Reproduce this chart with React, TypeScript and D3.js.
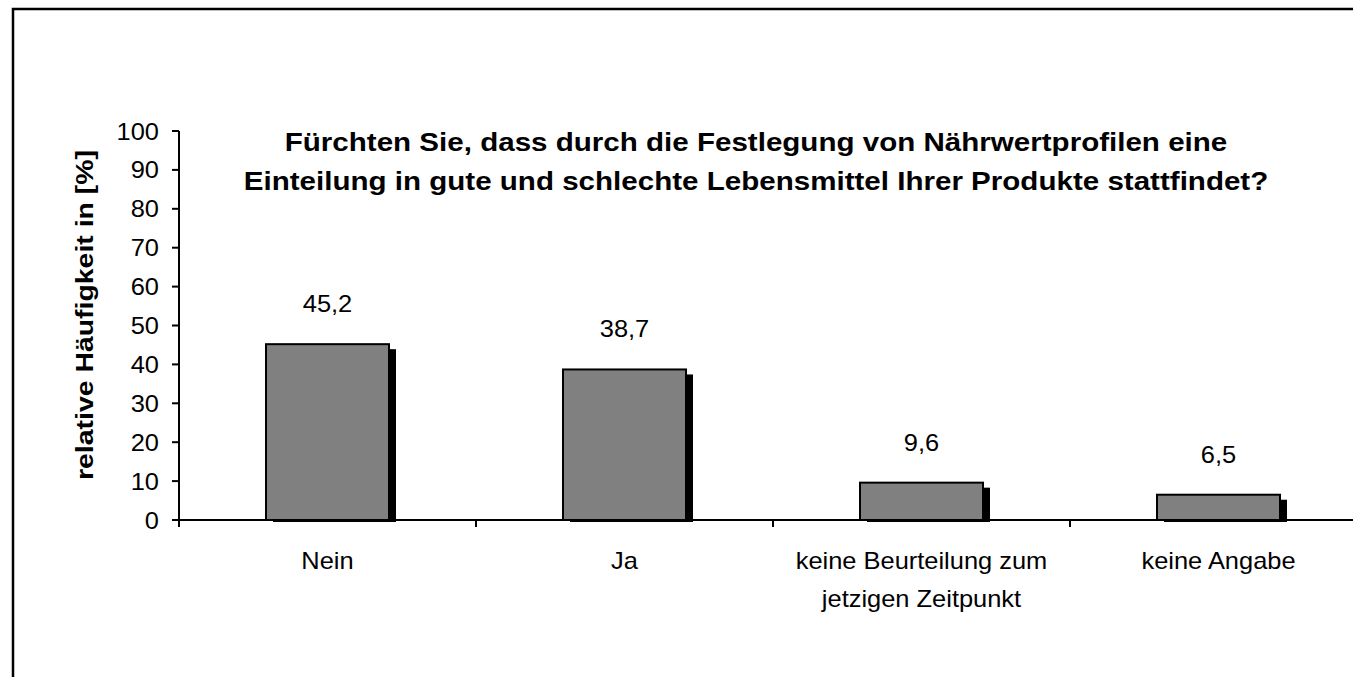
import React from "react";
import * as d3 from "d3";

const categories: string[][] = [
  ["Nein"],
  ["Ja"],
  ["keine Beurteilung zum", "jetzigen Zeitpunkt"],
  ["keine Angabe"],
];
const values: number[] = [45.2, 38.7, 9.6, 6.5];
const yTicks: number[] = [0, 10, 20, 30, 40, 50, 60, 70, 80, 90, 100];
const titleLines: string[] = [
  "Fürchten Sie, dass durch die Festlegung von Nährwertprofilen eine",
  "Einteilung in gute und schlechte Lebensmittel Ihrer Produkte stattfindet?",
];
const yLabel = "relative Häufigkeit in [%]";

const W = 1353;
const H = 677;
const FONT = "'Liberation Sans', Arial, sans-serif";
const FS = 24;
const SX = 1.06;

function T(props: {
  x: number;
  y: number;
  sx?: number;
  anchor?: "start" | "middle" | "end";
  size?: number;
  bold?: boolean;
  children: React.ReactNode;
}) {
  const { x, y, sx = SX, anchor = "middle", size = FS, bold = false, children } = props;
  return (
    <text
      transform={`translate(${x},${y}) scale(${sx},1)`}
      textAnchor={anchor}
      fontSize={size}
      fontWeight={bold ? "bold" : "normal"}
      fill="#000"
    >
      {children}
    </text>
  );
}

export default function App() {
  const x0 = 179;
  const band = 297;
  const x = d3
    .scaleBand<number>()
    .domain(values.map((_, i) => i))
    .range([x0, x0 + band * values.length])
    .paddingInner(0)
    .paddingOuter(0);
  const y = d3.scaleLinear().domain([0, 100]).range([520, 131]);
  const barW = 123;
  const fmt = (v: number) => v.toFixed(1).replace(".", ",");

  return (
    <svg
      width={W}
      height={H}
      style={{ position: "absolute", left: 0, top: 0, background: "#fff" }}
      fontFamily={FONT}
    >
      <rect x={0} y={0} width={W} height={H} fill="#fff" />
      {/* outer border */}
      <rect x={13} y={9} width={W + 20} height={H + 20} fill="none" stroke="#000" strokeWidth={2.5} />

      {/* title */}
      {titleLines.map((t, i) => (
        <T key={i} x={756} y={151 + i * 39} size={26} sx={1.137} bold>
          {t}
        </T>
      ))}

      {/* y label */}
      <text
        transform={`translate(93,315) rotate(-90)`}
        textAnchor="middle"
        fontSize={23}
        fontWeight="bold"
        textLength={330}
        lengthAdjust="spacingAndGlyphs"
      >
        {yLabel}
      </text>

      {/* bars */}
      {values.map((v, i) => {
        const cx = (x(i) as number) + x.bandwidth() / 2;
        const left = cx - barW / 2;
        return (
          <g key={i}>
            <rect x={left + 7} y={y(v) + 5} width={barW} height={y(0) - y(v) - 3} fill="#000" />
            <rect
              x={left}
              y={y(v)}
              width={barW}
              height={y(0) - y(v)}
              fill="#808080"
              stroke="#000"
              strokeWidth={2}
            />
            <T x={cx} y={y(v) - 32}>
              {fmt(v)}
            </T>
          </g>
        );
      })}

      {/* axes */}
      <line x1={x0} x2={x0} y1={y(100)} y2={y(0) + 7} stroke="#000" strokeWidth={2} />
      {yTicks.map((t) => (
        <g key={t}>
          <line x1={x0 - 7} x2={x0} y1={y(t)} y2={y(t)} stroke="#000" strokeWidth={2} />
          <T x={x0 - 20} y={y(t) + 8.5} anchor="end">
            {t}
          </T>
        </g>
      ))}
      <line x1={x0 - 7} x2={x0 + band * values.length} y1={y(0)} y2={y(0)} stroke="#000" strokeWidth={2} />
      {values.map((_, i) => (
        <line
          key={i}
          x1={(x(i) as number) + band}
          x2={(x(i) as number) + band}
          y1={y(0)}
          y2={y(0) + 7}
          stroke="#000"
          strokeWidth={2}
        />
      ))}
      {categories.map((lines, i) => {
        const cx = (x(i) as number) + x.bandwidth() / 2;
        return (
          <g key={i}>
            {lines.map((l, j) => (
              <T key={j} x={cx} y={569 + j * 38}>
                {l}
              </T>
            ))}
          </g>
        );
      })}
    </svg>
  );
}
